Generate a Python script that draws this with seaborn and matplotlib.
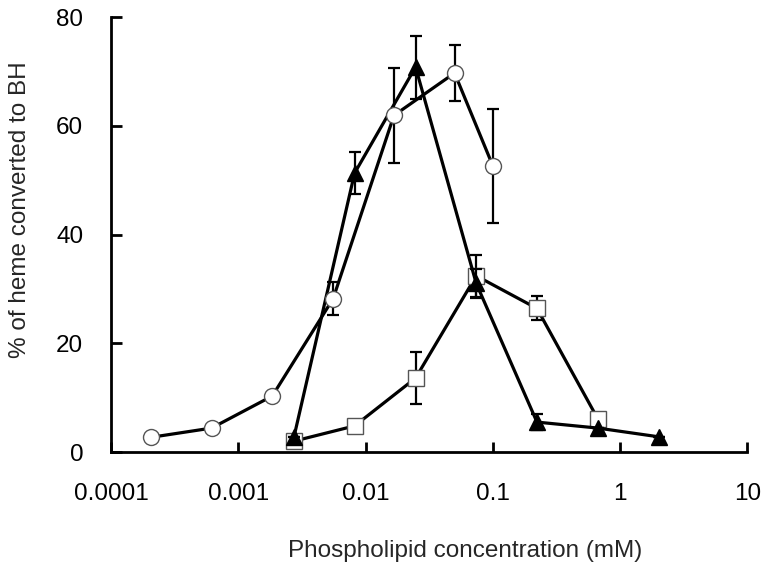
import numpy as np
import pandas as pd
import seaborn as sns
import matplotlib
matplotlib.use("Agg")
import matplotlib.pyplot as plt

# open circles
circ_x = [0.000206, 0.000617, 0.00185, 0.00556, 0.0167, 0.05, 0.1]
circ_y = [2.7, 4.4, 10.3, 28.2, 61.9, 69.7, 52.6]
circ_err = [0, 0, 0, 3.0, 8.8, 5.2, 10.5]

# filled triangles
tri_x = [0.00274, 0.0082, 0.0247, 0.074, 0.222, 0.667, 2.0]
tri_y = [2.8, 51.3, 70.8, 31.0, 5.5, 4.4, 2.8]
tri_err = [0, 3.8, 5.8, 2.6, 1.4, 0, 0]

# open squares
sq_x = [0.00274, 0.0082, 0.0247, 0.074, 0.222, 0.667]
sq_y = [2.0, 4.8, 13.6, 32.4, 26.4, 6.1]
sq_err = [0, 0, 4.8, 3.9, 2.2, 1.0]

xticks = [0.0001, 0.001, 0.01, 0.1, 1, 10]
xticklabels = ["0.0001", "0.001", "0.01", "0.1", "1", "10"]
yticks = [0, 20, 40, 60, 80]

sns.set_style("ticks")
plt.rcParams['font.family'] = ['Liberation Sans', 'DejaVu Sans']

fig = plt.figure(figsize=(7.68, 5.71), dpi=100)
ax = fig.add_axes([0.1445, 0.2084, 0.8288, 0.7618])

def draw(xs, ys, errs, marker, ms, fc, ec, z):
    df = pd.DataFrame({"conc": xs, "pct": ys})
    ax.errorbar(xs, ys, yerr=errs, fmt="none", ecolor="black", elinewidth=1.6,
                capsize=4, capthick=1.6, zorder=z - 0.5)
    sns.lineplot(data=df, x="conc", y="pct", ax=ax, color="black", linewidth=2.3,
                 marker=marker, markersize=ms, markerfacecolor=fc,
                 markeredgecolor=ec, markeredgewidth=1.0, zorder=z)

draw(sq_x, sq_y, sq_err, "s", 11.5, "white", "#555555", 3)
draw(tri_x, tri_y, tri_err, "^", 11.5, "black", "black", 4)
draw(circ_x, circ_y, circ_err, "o", 11.5, "white", "#555555", 5)

ax.set_xscale("log")
ax.set_xlim(0.0001, 10)
ax.set_ylim(0, 80)
ax.set_xticks(xticks)
ax.set_xticklabels(xticklabels)
ax.minorticks_off()
ax.set_yticks(yticks)

for s in ["top", "right"]:
    ax.spines[s].set_visible(False)
for s in ["left", "bottom"]:
    ax.spines[s].set_linewidth(2)
    ax.spines[s].set_color("black")

ax.tick_params(axis="x", direction="in", length=7, width=2, pad=22, labelsize=17.5, colors="black")
ax.tick_params(axis="y", direction="in", length=8, width=2, pad=20, labelsize=17.5, colors="black")

ax.set_xlabel("Phospholipid concentration (mM)", fontsize=17.5)
ax.set_ylabel("% of heme converted to BH", fontsize=17.5)
ax.yaxis.set_label_coords(-0.125, 0.556)
ax.xaxis.set_label_coords(0.556, -0.203)

fig.savefig("out.png", dpi=100)
